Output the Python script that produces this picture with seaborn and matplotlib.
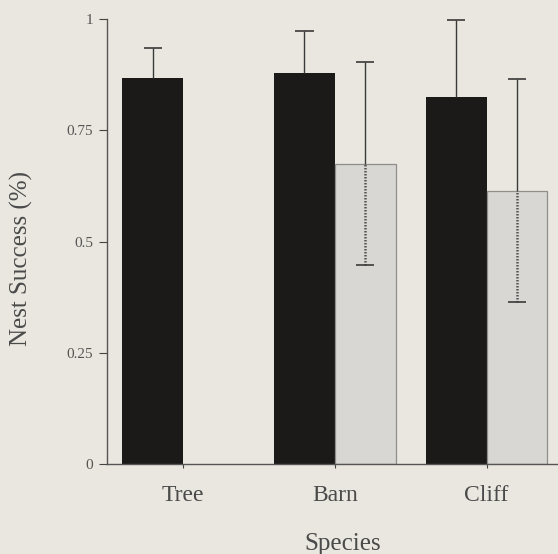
import numpy as np
import pandas as pd
import matplotlib
matplotlib.use("Agg")
import matplotlib.pyplot as plt
import seaborn as sns

# values
species = ["Tree", "Barn", "Cliff"]
groups = ["A", "B"]
success_a = [0.868, 0.879, 0.825]
success_b = [np.nan, 0.675, 0.614]   # no light bar for Tree
err_a = [0.067, 0.094, 0.173]
err_b = [np.nan, 0.227, 0.250]
yticks = [0, 0.25, 0.5, 0.75, 1]
ytick_labels = ["0", "0.25", "0.5", "0.75", "1"]

sns.set_style("ticks")
plt.rcParams['font.family'] = ['Liberation Serif', 'DejaVu Serif']

df = pd.DataFrame({
    "species": species * 2,
    "group": [groups[0]] * 3 + [groups[1]] * 3,
    "success": success_a + success_b,
    "err": err_a + err_b,
})

bg = "#e9e7df"
fig = plt.figure(figsize=(5.58, 5.54), dpi=100, facecolor=bg)
ax = fig.add_axes([0.192, 0.162, 0.808, 0.804], facecolor=bg)

sns.barplot(data=df, x="species", y="success", hue="group", hue_order=groups,
            palette=["#1d1a18", "#d9d8d3"], errorbar=None, width=0.8,
            legend=False, ax=ax)

# edges: dark bars none, light bars thin grey outline
for cont, g in zip(ax.containers, groups):
    for bar in cont:
        if g == "B":
            bar.set_edgecolor("#8e8e8a")
            bar.set_linewidth(0.9)
        else:
            bar.set_edgecolor("none")

# error bars: solid whisker above the bar, dotted whisker inside light bars
cap = 0.06
for cont, g in zip(ax.containers, groups):
    sub = df[df["group"] == g].dropna()
    xs = np.array([b.get_x() + b.get_width() / 2 for b in cont])
    ys = sub["success"].values
    es = sub["err"].values
    ax.vlines(xs, ys, ys + es, color="#3a3a3a", lw=1)
    ax.hlines(ys + es, xs - cap, xs + cap, color="#3a3a3a", lw=1.2)
    if g == "B":
        ax.vlines(xs, ys - es, ys, color="#555555", lw=1.8,
                  linestyles=[(0, (0.6, 0.6))])
        ax.hlines(ys - es, xs - cap, xs + cap, color="#3a3a3a", lw=1.2)

ax.set_xlim(-0.5, 2.47)
ax.set_ylim(0, 1.0)
ax.set_yticks(yticks)
ax.set_yticklabels(ytick_labels)
ax.tick_params(axis="y", labelsize=11, length=6, pad=4, colors="#444444", labelcolor="#555555")
ax.tick_params(axis="x", labelsize=17, length=3, pad=12, colors="#444444", labelcolor="#4a4a4a")
ax.set_xlabel("Species", fontsize=18, color="#4a4a4a")
ax.set_ylabel("Nest Success (%)", fontsize=18, color="#4a4a4a")
ax.xaxis.set_label_coords(0.522, -0.155)
ax.yaxis.set_label_coords(-0.165, 0.462)
for s in ["top", "right"]:
    ax.spines[s].set_visible(False)
for s in ["left", "bottom"]:
    ax.spines[s].set_color("#555555")
    ax.spines[s].set_linewidth(1)

fig.savefig("out.png", dpi=100, facecolor=bg)
